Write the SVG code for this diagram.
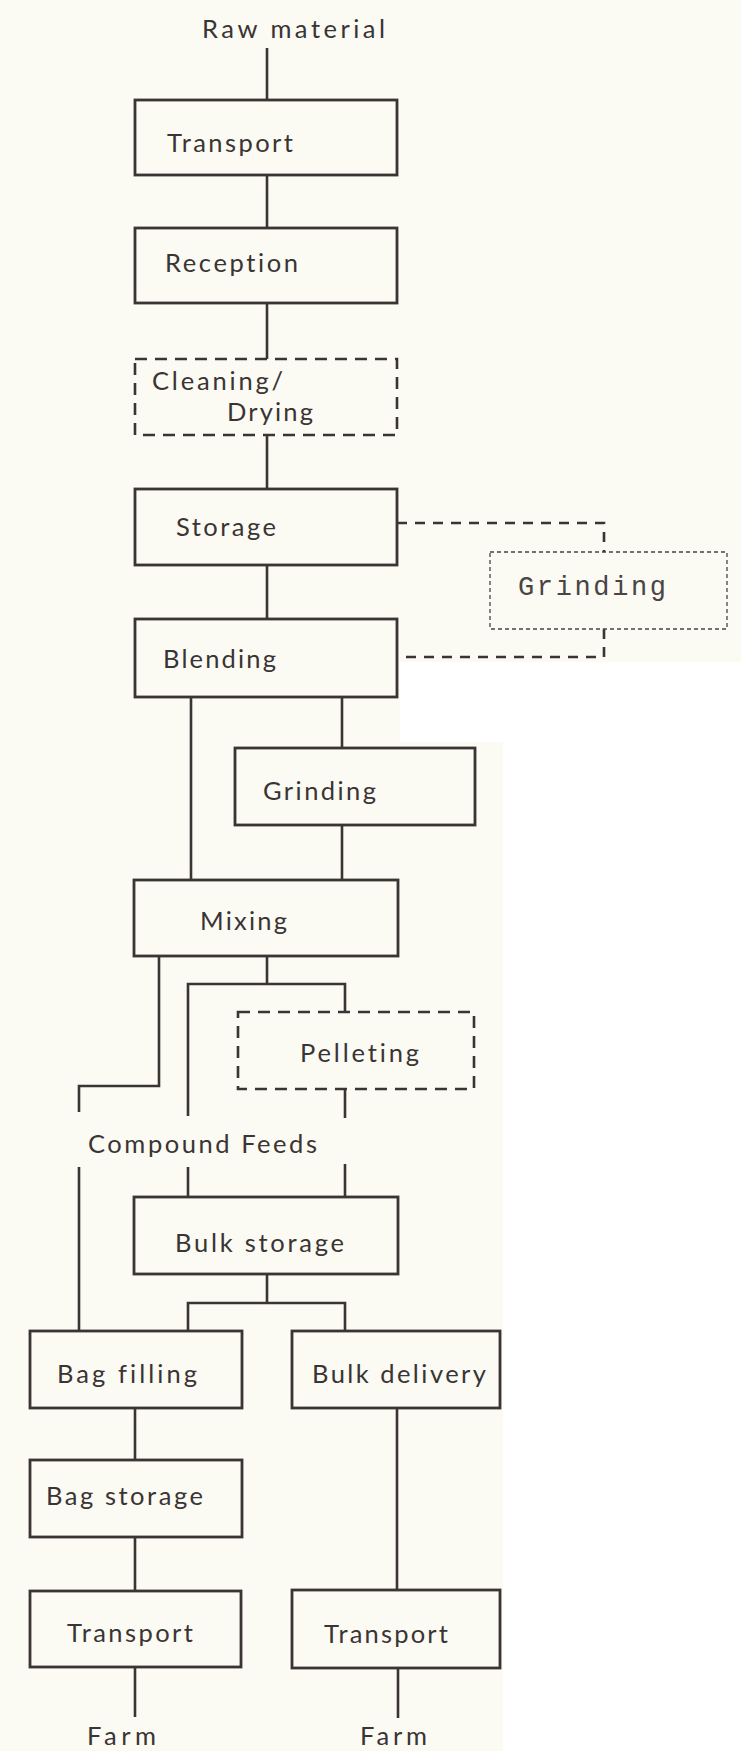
<svg xmlns="http://www.w3.org/2000/svg" width="741" height="1751" viewBox="0 0 741 1751">
<style>
.bg{fill:#fbfaf3}
.box{fill:none;stroke:#3b3434;stroke-width:2.8;stroke-linejoin:miter}
.dbox{fill:none;stroke:#3b3434;stroke-width:2.6;stroke-dasharray:12 8}
.dot{fill:none;stroke:#4a4444;stroke-width:1.3;stroke-dasharray:4 3}
.ln{fill:none;stroke:#3b3434;stroke-width:2.6}
.dln{fill:none;stroke:#3b3434;stroke-width:2.6;stroke-dasharray:10 8}
.t{font-family:Lato,"Open Sans","Liberation Sans",sans-serif;font-size:25.5px;fill:#3a3434;font-variant-ligatures:none}
.m{font-family:"Liberation Mono","DejaVu Sans Mono",monospace;font-size:27px;fill:#4a4444}
</style>
<rect class="bg" x="0" y="0" width="741" height="1751"/>
<polygon points="400,662 741,662 741,1751 503,1751 503,742 400,742" fill="#ffffff"/>

<g id="connectors">
<line class="ln" x1="267" y1="48" x2="267" y2="100"/>
<line class="ln" x1="267" y1="175" x2="267" y2="228"/>
<line class="ln" x1="267" y1="303" x2="267" y2="359"/>
<line class="ln" x1="267" y1="435" x2="267" y2="489"/>
<line class="ln" x1="267" y1="565" x2="267" y2="619"/>
<polyline class="dln" points="397,523 604,523 604,552"/>
<polyline class="dln" points="604,629 604,657 397,657"/>
<line class="ln" x1="191" y1="697" x2="191" y2="880"/>
<line class="ln" x1="342" y1="697" x2="342" y2="748"/>
<line class="ln" x1="342" y1="825" x2="342" y2="880"/>
<polyline class="ln" points="159,956 159,1086 79,1086 79,1112"/>
<line class="ln" x1="79" y1="1167" x2="79" y2="1331"/>
<line class="ln" x1="267" y1="956" x2="267" y2="984"/>
<polyline class="ln" points="188,1116 188,984 345,984 345,1012"/>
<line class="ln" x1="345" y1="1089" x2="345" y2="1118"/>
<line class="ln" x1="188" y1="1167" x2="188" y2="1197"/>
<line class="ln" x1="345" y1="1164" x2="345" y2="1197"/>
<line class="ln" x1="267" y1="1274" x2="267" y2="1303"/>
<polyline class="ln" points="188,1331 188,1303 345,1303 345,1331"/>
<line class="ln" x1="135" y1="1408" x2="135" y2="1460"/>
<line class="ln" x1="135" y1="1537" x2="135" y2="1591"/>
<line class="ln" x1="135" y1="1667" x2="135" y2="1717"/>
<line class="ln" x1="397" y1="1408" x2="397" y2="1590"/>
<line class="ln" x1="398" y1="1668" x2="398" y2="1718"/>
</g>

<g id="raw-material"><text class="t" x="202" y="38" textLength="183" lengthAdjust="spacing">Raw material</text></g>
<g id="transport1"><rect class="box" x="135" y="100" width="262" height="75"/><text class="t" x="167" y="152" textLength="126" lengthAdjust="spacing">Transport</text></g>
<g id="reception"><rect class="box" x="135" y="228" width="262" height="75"/><text class="t" x="165" y="272" textLength="133" lengthAdjust="spacing">Reception</text></g>
<g id="cleaning"><rect class="dbox" x="135" y="359" width="262" height="76"/><text class="t" x="152" y="390" textLength="131" lengthAdjust="spacing">Cleaning/</text><text class="t" x="227" y="421" textLength="86" lengthAdjust="spacing">Drying</text></g>
<g id="storage"><rect class="box" x="135" y="489" width="262" height="76"/><text class="t" x="176" y="536" textLength="100" lengthAdjust="spacing">Storage</text></g>
<g id="grinding-optional"><rect class="dot" x="490" y="552" width="237" height="77"/><text class="m" x="518" y="595" textLength="148" lengthAdjust="spacing">Grinding</text></g>
<g id="blending"><rect class="box" x="135" y="619" width="262" height="78"/><text class="t" x="163" y="668" textLength="113" lengthAdjust="spacing">Blending</text></g>
<g id="grinding"><rect class="box" x="235" y="748" width="240" height="77"/><text class="t" x="263" y="800" textLength="113" lengthAdjust="spacing">Grinding</text></g>
<g id="mixing"><rect class="box" x="134" y="880" width="264" height="76"/><text class="t" x="200" y="930" textLength="87" lengthAdjust="spacing">Mixing</text></g>
<g id="pelleting"><rect class="dbox" x="238" y="1012" width="236" height="77"/><text class="t" x="300" y="1062" textLength="119" lengthAdjust="spacing">Pelleting</text></g>
<g id="compound-feeds"><text class="t" x="88" y="1153" textLength="229" lengthAdjust="spacing">Compound Feeds</text></g>
<g id="bulk-storage"><rect class="box" x="134" y="1197" width="264" height="77"/><text class="t" x="175" y="1252" textLength="169" lengthAdjust="spacing">Bulk storage</text></g>
<g id="bag-filling"><rect class="box" x="30" y="1331" width="212" height="77"/><text class="t" x="57" y="1383" textLength="140" lengthAdjust="spacing">Bag filling</text></g>
<g id="bulk-delivery"><rect class="box" x="292" y="1331" width="208" height="77"/><text class="t" x="312" y="1383" textLength="174" lengthAdjust="spacing">Bulk delivery</text></g>
<g id="bag-storage"><rect class="box" x="30" y="1460" width="212" height="77"/><text class="t" x="46" y="1505" textLength="157" lengthAdjust="spacing">Bag storage</text></g>
<g id="transport2"><rect class="box" x="30" y="1591" width="211" height="76"/><text class="t" x="67" y="1642" textLength="126" lengthAdjust="spacing">Transport</text></g>
<g id="transport3"><rect class="box" x="292" y="1590" width="208" height="78"/><text class="t" x="324" y="1643" textLength="124" lengthAdjust="spacing">Transport</text></g>
<g id="farm1"><text class="t" x="87" y="1745" textLength="69" lengthAdjust="spacing">Farm</text></g>
<g id="farm2"><text class="t" x="360" y="1745" textLength="67" lengthAdjust="spacing">Farm</text></g>
</svg>
